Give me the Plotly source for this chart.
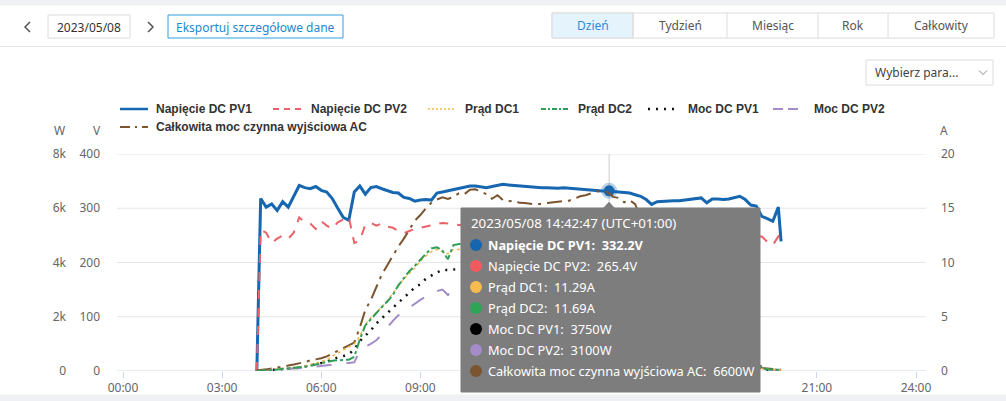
import pandas as pd
import plotly.graph_objects as go

DAY = "2023-05-08"
FONT = "Noto Sans"
LEGEND_FONT = "Liberation Sans"

# Sample times: first reading, the 10-minute log, last reading
times = ([f"{DAY} 04:03"]
         + list(pd.date_range(f"{DAY} 04:10", f"{DAY} 19:50", freq="10min").strftime("%Y-%m-%d %H:%M"))
         + [f"{DAY} 19:55"])

# Napięcie DC PV1 [V]
napiecie_pv1 = [
    0, 318, 302, 308, 296, 312,
    302, 322, 342, 338, 336, 340,
    333, 330, 318, 300, 283, 278,
    330, 341, 326, 338, 340, 336,
    333, 329, 328, 320, 318, 313,
    315, 316, 315, 328, 330, 332,
    334, 336, 338, 341, 341, 339,
    338, 340, 342, 344, 343, 342,
    341, 340, 339, 338, 338, 338,
    337, 337, 338, 337, 337, 336,
    335, 334, 333, 332, 332, 331,
    331, 330, 328, 325, 322, 316,
    307, 312, 313, 313, 314, 314,
    315, 316, 318, 319, 310, 317,
    317, 316, 317, 319, 322, 316,
    306, 304, 285, 281, 276, 302,
    239]

# Napięcie DC PV2 [V]
napiecie_pv2 = [
    0, 260, 255, 236, 244, 250,
    244, 255, 283, 274, 272, 262,
    276, 268, 262, 274, 279, 284,
    236, 240, 270, 273, 268, 272,
    266, 264, 258, 254, 258, 262,
    264, 266, 268, 271, 273, 272,
    270, 269, 270, 271, 270, 272,
    271, 270, 271, 272, 271, 270,
    270, 269, 270, 268, 269, 268,
    268, 267, 268, 267, 266, 267,
    266, 266, 265, 266, 265, 265,
    264, 263, 262, 262, 260, 258,
    255, 258, 259, 258, 259, 258,
    258, 257, 258, 256, 252, 255,
    256, 255, 254, 255, 256, 252,
    250, 248, 248, 238, 232, 248,
    240]

# Prąd DC1 [A]
prad_dc1 = [
    0, 0.03, 0.07, 0.1, 0.13, 0.18,
    0.23, 0.31, 0.37, 0.47, 0.6, 0.72,
    0.87, 1.06, 1.35, 1.67, 1.94, 2.23,
    2.5, 3.2, 4.3, 4.9, 5.4, 5.9,
    6.5, 7.1, 7.8, 8.5, 9.0, 9.5,
    10.1, 10.6, 11.0, 11.2, 11.0, 10.8,
    11.2, 11.2, 11.25, 11.2, 11.3, 11.35,
    11.25, 11.2, 11.1, 11.0, 10.95, 10.95,
    10.9, 10.9, 10.9, 10.9, 10.9, 10.9,
    11.0, 11.0, 11.0, 11.05, 11.05, 11.15,
    11.2, 11.2, 11.3, 11.35, 11.29, 11.0,
    10.8, 10.55, 10.4, 10.2, 9.85, 9.55,
    9.3, 8.7, 8.3, 7.9, 7.5, 7.1,
    6.65, 6.25, 5.8, 5.4, 5.05, 4.6,
    4.1, 3.6, 3.1, 2.7, 2.2, 1.8,
    1.4, 0.8, 0.2, 0.16, 0.13, 0.1,
    0.1]

# Prąd DC2 [A]
prad_dc2 = [
    0, 0.04, 0.06, 0.1, 0.14, 0.18,
    0.25, 0.29, 0.32, 0.4, 0.48, 0.61,
    0.69, 0.82, 0.95, 0.99, 1.02, 1.04,
    1.3, 2.9, 4.2, 4.8, 5.3, 5.9,
    6.4, 7.0, 7.9, 8.6, 9.2, 9.7,
    10.3, 10.8, 11.3, 11.4, 11.1, 10.3,
    11.6, 11.7, 11.8, 11.9, 12.0, 11.9,
    11.9, 11.8, 11.8, 11.7, 11.7, 11.6,
    11.6, 11.6, 11.5, 11.5, 11.5, 11.5,
    11.5, 11.5, 11.6, 11.6, 11.6, 11.7,
    11.7, 11.7, 11.7, 11.7, 11.69, 11.5,
    11.3, 11.0, 10.9, 10.7, 10.3, 10.0,
    9.7, 9.3, 8.9, 8.5, 8.1, 7.7,
    7.2, 6.8, 6.3, 5.8, 5.3, 4.8,
    4.3, 3.8, 3.3, 2.8, 2.3, 1.9,
    1.5, 0.9, 0.2, 0.15, 0.12, 0.1,
    0.1]

# Moc DC PV1 [W]
moc_pv1 = [
    0, 10, 20, 30, 40, 55,
    70, 100, 125, 160, 200, 245,
    290, 350, 430, 500, 550, 620,
    800, 1100, 1300, 1500, 1750, 1950,
    2150, 2350, 2520, 2700, 2900, 3080,
    3200, 3400, 3520, 3620, 3730, 3720,
    3730, 3760, 3800, 3830, 3850, 3840,
    3820, 3800, 3790, 3780, 3760, 3740,
    3720, 3700, 3690, 3680, 3680, 3690,
    3700, 3700, 3710, 3720, 3730, 3740,
    3750, 3750, 3760, 3760, 3750, 3650,
    3580, 3480, 3410, 3320, 3170, 3020,
    2850, 2720, 2600, 2470, 2350, 2230,
    2100, 1970, 1850, 1720, 1570, 1460,
    1300, 1140, 980, 860, 710, 570,
    430, 250, 60, 45, 35, 30,
    25]

# Moc DC PV2 [W]
moc_pv2 = [
    0, 10, 15, 25, 35, 45,
    60, 75, 90, 110, 130, 160,
    190, 220, 250, 270, 285, 295,
    320, 760, 900, 1000, 1130, 1350,
    1600, 1850, 2050, 2200, 2350, 2500,
    2620, 2740, 2900, 2950, 3000, 2800,
    3050, 3080, 3100, 3120, 3140, 3130,
    3120, 3110, 3100, 3090, 3080, 3070,
    3060, 3050, 3040, 3040, 3030, 3030,
    3040, 3040, 3050, 3060, 3070, 3080,
    3090, 3090, 3100, 3100, 3100, 3000,
    2950, 2880, 2820, 2760, 2650, 2560,
    2450, 2350, 2250, 2150, 2050, 1950,
    1850, 1750, 1630, 1520, 1400, 1280,
    1150, 1010, 880, 760, 620, 500,
    380, 220, 50, 40, 30, 25,
    20]

# Całkowita moc czynna wyjściowa AC [W]
moc_ac = [
    0, 40, 60, 90, 120, 160,
    200, 240, 280, 330, 390, 430,
    470, 540, 640, 740, 850, 960,
    1050, 1600, 2250, 2620, 3100, 3560,
    3900, 4250, 4590, 4880, 5200, 5540,
    5750, 6000, 6200, 6320, 6400, 6340,
    6420, 6550, 6520, 6680, 6700, 6600,
    6520, 6350, 6480, 6300, 6260, 6280,
    6200, 6190, 6160, 6140, 6170, 6200,
    6210, 6240, 6260, 6280, 6350, 6440,
    6480, 6550, 6620, 6630, 6600, 6420,
    6380, 6220, 6300, 6150, 5650, 5450,
    5150, 4900, 4700, 4450, 4250, 4050,
    3800, 3580, 3350, 3120, 2850, 2640,
    2360, 2060, 1790, 1550, 1280, 1020,
    780, 480, 110, 80, 70, 60,
    50]

# Axis ticks
x_tick_labels = ["00:00", "03:00", "06:00", "09:00", "12:00", "15:00", "18:00", "21:00", "24:00"]
v_ticks = [0, 100, 200, 300, 400]
w_ticks = [0, 2000, 4000, 6000, 8000]
w_tick_labels = ["0", "2k", "4k", "6k", "8k"]
a_ticks = [0, 5, 10, 15, 20]

# Hovered point shown in the tooltip
tt_time = f"{DAY} 14:42:47"
tt_title = "2023/05/08 14:42:47 (UTC+01:00)"
tt_names = ["Napięcie DC PV1", "Napięcie DC PV2", "Prąd DC1", "Prąd DC2",
            "Moc DC PV1", "Moc DC PV2", "Całkowita moc czynna wyjściowa AC"]
tt_values = [332.2, 265.4, 11.29, 11.69, 3750, 3100, 6600]
tt_units = ["V", "V", "A", "A", "W", "W", "W"]

# Toolbar texts
tabs = ["Dzień", "Tydzień", "Miesiąc", "Rok", "Całkowity"]

series = [
    ("Napięcie DC PV1", napiecie_pv1, "y", "#1766b0", "solid", 3),
    ("Napięcie DC PV2", napiecie_pv2, "y", "#ec6167", "dash", 2),
    ("Prąd DC1", prad_dc1, "y3", "#f5b84e", "dot", 1.5),
    ("Prąd DC2", prad_dc2, "y3", "#2e9e57", "dashdot", 2),
    ("Moc DC PV1", moc_pv1, "y2", "#111111", "2px,6px", 2.5),
    ("Moc DC PV2", moc_pv2, "y2", "#a48cc8", "longdash", 2),
    ("Całkowita moc czynna wyjściowa AC", moc_ac, "y2", "#7b5530", "longdashdot", 2),
]
bullet_colors = ["#1766b0", "#f25a5f", "#f6bb4f", "#2ea556", "#000000", "#a48cc8", "#7b5530"]

# legend placement in page pixels: (sample start, text start, row centre)
legend_slots = [(120, 154, 109), (273, 309, 109), (428, 463, 109), (541, 576, 109),
                (648, 686, 109), (773, 812, 109), (120, 154, 127)]
legend_dash = ["solid", "6px,5px", "2px,2px", "5px,2px,2px,2px", "2px,6px", "10px,5px", "10px,5px,2px,5px"]

# Pixel helpers (plot area 123..916 x 154..371 in a 1006x401 page)
L, R, T, B = 123, 90, 154, 30
W_PX, H_PX = 1006, 401


def fx(px):
    return (px - L) / (W_PX - L - R)


def fy(py):
    return (H_PX - B - py) / (H_PX - T - B)


fig = go.Figure()
for name, vals, axis, color, dash, width in series:
    fig.add_trace(go.Scatter(x=times, y=vals, name=name, yaxis=axis, mode="lines",
                             line=dict(color=color, dash=dash, width=width)))

# highlighted point on PV1
fig.add_trace(go.Scatter(x=[tt_time], y=[tt_values[0]], mode="markers", showlegend=False,
                         marker=dict(size=11, color="#1766b0",
                                     line=dict(width=5, color="rgba(23,102,176,0.3)"))))

shapes = []
annotations = []


def box(x0, y0, x1, y1, line="#dcdcdc", fill="white", layer="above"):
    shapes.append(dict(type="rect", xref="paper", yref="paper", x0=fx(x0), x1=fx(x1),
                       y0=fy(y1), y1=fy(y0), line=dict(color=line, width=1),
                       fillcolor=fill, layer=layer))


def hline(x0, x1, y, color="#e6e6e6", width=1, dash="solid"):
    shapes.append(dict(type="line", xref="paper", yref="paper", x0=fx(x0), x1=fx(x1),
                       y0=fy(y), y1=fy(y), line=dict(color=color, width=width, dash=dash)))


def text(px, py, s, color="#333", size=12, anchor="center", bold=False, family=FONT):
    annotations.append(dict(xref="paper", yref="paper", x=fx(px), y=fy(py), text=s,
                            showarrow=False, xanchor=anchor, yanchor="middle",
                            font=dict(family=family, size=size, color=color,
                                      weight="bold" if bold else "normal")))


def path(points, color="#555", width=1.5, fill=None):
    d = "M " + " L ".join(f"{fx(a)},{fy(b)}" for a, b in points)
    if fill:
        d += " Z"
    shapes.append(dict(type="path", xref="paper", yref="paper", path=d,
                       line=dict(color=color if not fill else fill, width=width),
                       fillcolor=fill, layer="above"))


def dot(px, py, r, color):
    shapes.append(dict(type="circle", xref="paper", yref="paper", x0=fx(px - r), x1=fx(px + r),
                       y0=fy(py + r), y1=fy(py - r), line=dict(color=color, width=0),
                       fillcolor=color, layer="above"))


# horizontal grid and base line, a little wider than the plot area as in the original
for v in v_ticks:
    shapes.append(dict(type="line", xref="paper", yref="y", x0=fx(117), x1=fx(926), y0=v, y1=v,
                       line=dict(color="#ccd6eb" if v == 0 else "#e6e6e6", width=1),
                       layer="below"))

# page frame strips
box(0, 0, 1006, 5, line="#eef0f3", fill="#eef0f3")
box(0, 395, 1006, 401, line="#eef0f3", fill="#eef0f3")
hline(0, 1006, 46.5)

# date navigation
path([(30, 22), (25, 27), (30, 32)])
path([(148, 22), (153, 27), (148, 32)])
box(48, 15, 130, 38)
text(89, 27, "2023/05/08", color="#333")
box(168, 15, 343, 38, line="#35a0de")
text(255.5, 27, "Eksportuj szczegółowe dane", color="#1a8ad0")

# period tabs
tab_edges = [552, 633, 727, 818, 888, 994]
box(552, 13, 994, 38)
box(552, 13, 633, 38, fill="#e5f3fd")
for i, label in enumerate(tabs):
    if 0 < i:
        shapes.append(dict(type="line", xref="paper", yref="paper", x0=fx(tab_edges[i]),
                           x1=fx(tab_edges[i]), y0=fy(13), y1=fy(38),
                           line=dict(color="#dcdcdc", width=1)))
    text((tab_edges[i] + tab_edges[i + 1]) / 2, 26, label,
         color="#2b8ed6" if i == 0 else "#555")

# parameter selector
box(866, 60, 993, 85)
text(873, 72.5, "Wybierz para...", color="#444", anchor="left")
path([(979, 70.5), (983, 74.5), (987, 70.5)], color="#888", width=1)

# legend drawn by hand so that it wraps like the original
for (name, _, _, color, _, width), (sx, tx, ly), dash in zip(series, legend_slots, legend_dash):
    hline(sx, sx + 28, ly, color=color, width=min(width, 2.5), dash=dash)
    text(tx, ly, name, color="#333", size=12, anchor="left", bold=True, family=LEGEND_FONT)

# axis unit titles
text(60, 130, "W", color="#666")
text(97, 130, "V", color="#666")
text(944, 130, "A", color="#666")

# crosshair at the hovered time
shapes.append(dict(type="line", xref="x", yref="paper", x0=tt_time, x1=tt_time, y0=0, y1=1,
                   line=dict(color="#cccccc", width=1), layer="below"))

# tooltip box
box(461, 208, 760, 392, line="#7d7d7d", fill="#7d7d7d")
path([(603, 208.5), (609, 202), (615, 208.5)], fill="#7d7d7d", width=0.5)
text(469, 223, tt_title, color="white", size=13.3, anchor="left")
for i, (nm, val, unit) in enumerate(zip(tt_names, tt_values, tt_units)):
    py = 245 + i * 21
    dot(476, py, 6, bullet_colors[i])
    text(486, py, f"{nm}:  {val:g}{unit}", color="white", size=12.8, anchor="left", bold=(i == 0))

fig.update_layout(
    width=W_PX, height=H_PX, autosize=False,
    margin=dict(l=L, r=R, t=T, b=B, autoexpand=False),
    paper_bgcolor="white", plot_bgcolor="white",
    font=dict(family=FONT, size=12, color="#666"),
    showlegend=False,
    xaxis=dict(type="date", range=[f"{DAY} 00:00", "2023-05-09 00:00"],
               tickvals=list(pd.date_range(DAY, periods=9, freq="3h")),
               ticktext=x_tick_labels, showgrid=False, zeroline=False, automargin=False,
               showline=False, ticks="outside", ticklen=6,
               tickcolor="#ccd6eb", tickfont=dict(color="#666", size=12)),
    yaxis=dict(range=[0, 400], tickvals=v_ticks, showgrid=False, automargin=False,
               zeroline=False, ticklabelstandoff=22, tickfont=dict(color="#666", size=12)),
    yaxis2=dict(range=[0, 8000], tickvals=w_ticks, ticktext=w_tick_labels, overlaying="y",
                side="left", anchor="free", position=0, showgrid=False, zeroline=False,
                automargin=False, ticklabelstandoff=57, tickfont=dict(color="#666", size=12)),
    yaxis3=dict(range=[0, 20], tickvals=a_ticks, overlaying="y", side="right", anchor="x",
                showgrid=False, zeroline=False, automargin=False, ticklabelstandoff=24,
                tickfont=dict(color="#666", size=12)),
    shapes=shapes,
    annotations=annotations,
    hovermode="closest",
)

fig.write_html("out.html", config={"responsive": False, "displayModeBar": False},
               post_script="document.body.style.margin='0';")
